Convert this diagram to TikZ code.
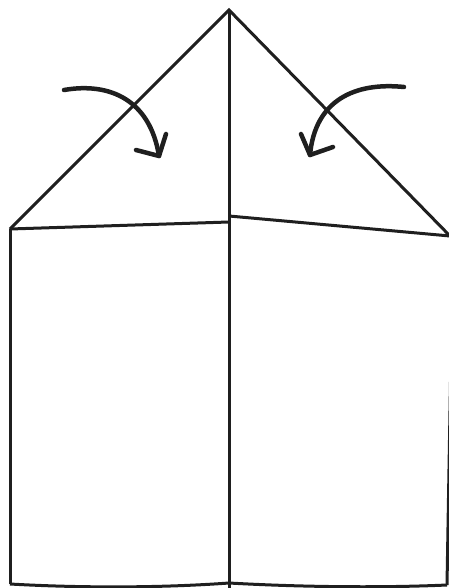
\documentclass[tikz,border=0pt]{standalone}
\begin{document}
\begin{tikzpicture}[x=1pt,y=-1pt,
  edge/.style={draw=black!88, line width=3pt, line join=miter},
  foldarrow/.style={draw=black!88, line width=4.5pt, line cap=round, line join=round}]
\useasboundingbox (0,0) rectangle (449,588);
\coordinate (apex) at (229,10);
\coordinate (lb) at (10,229);
\coordinate (rb) at (450,236);
\coordinate (rw) at (453,236);
\coordinate (ml) at (229,222);
\coordinate (mr) at (229,216);
\coordinate (bl) at (10,584);
\coordinate (bm) at (229,583);
\coordinate (br) at (447,585);
% roof
\draw[edge] (lb) -- (apex) -- (rb);
\draw[edge] (lb) -- (ml);
\draw[edge] (mr) -- (rb);
% center fold
\draw[edge] (apex) -- (229,588);
% walls
\draw[edge] (lb) -- (bl);
\draw[edge] (rw) -- (br);
% bottom
\draw[edge] (bl) .. controls (80,588) and (160,588) .. (bm);
\draw[edge] (bm) .. controls (300,587) and (380,588) .. (br);
% arrows
\draw[foldarrow] (64,90) .. controls (110,82) and (150,100) .. (159,156);
\draw[foldarrow] (136,150) -- (159,156) -- (166,134);
\draw[foldarrow] (404,87) .. controls (355,82) and (315,100) .. (310,155);
\draw[foldarrow] (301,134) -- (310,155) -- (333,147);
\end{tikzpicture}
\end{document}
